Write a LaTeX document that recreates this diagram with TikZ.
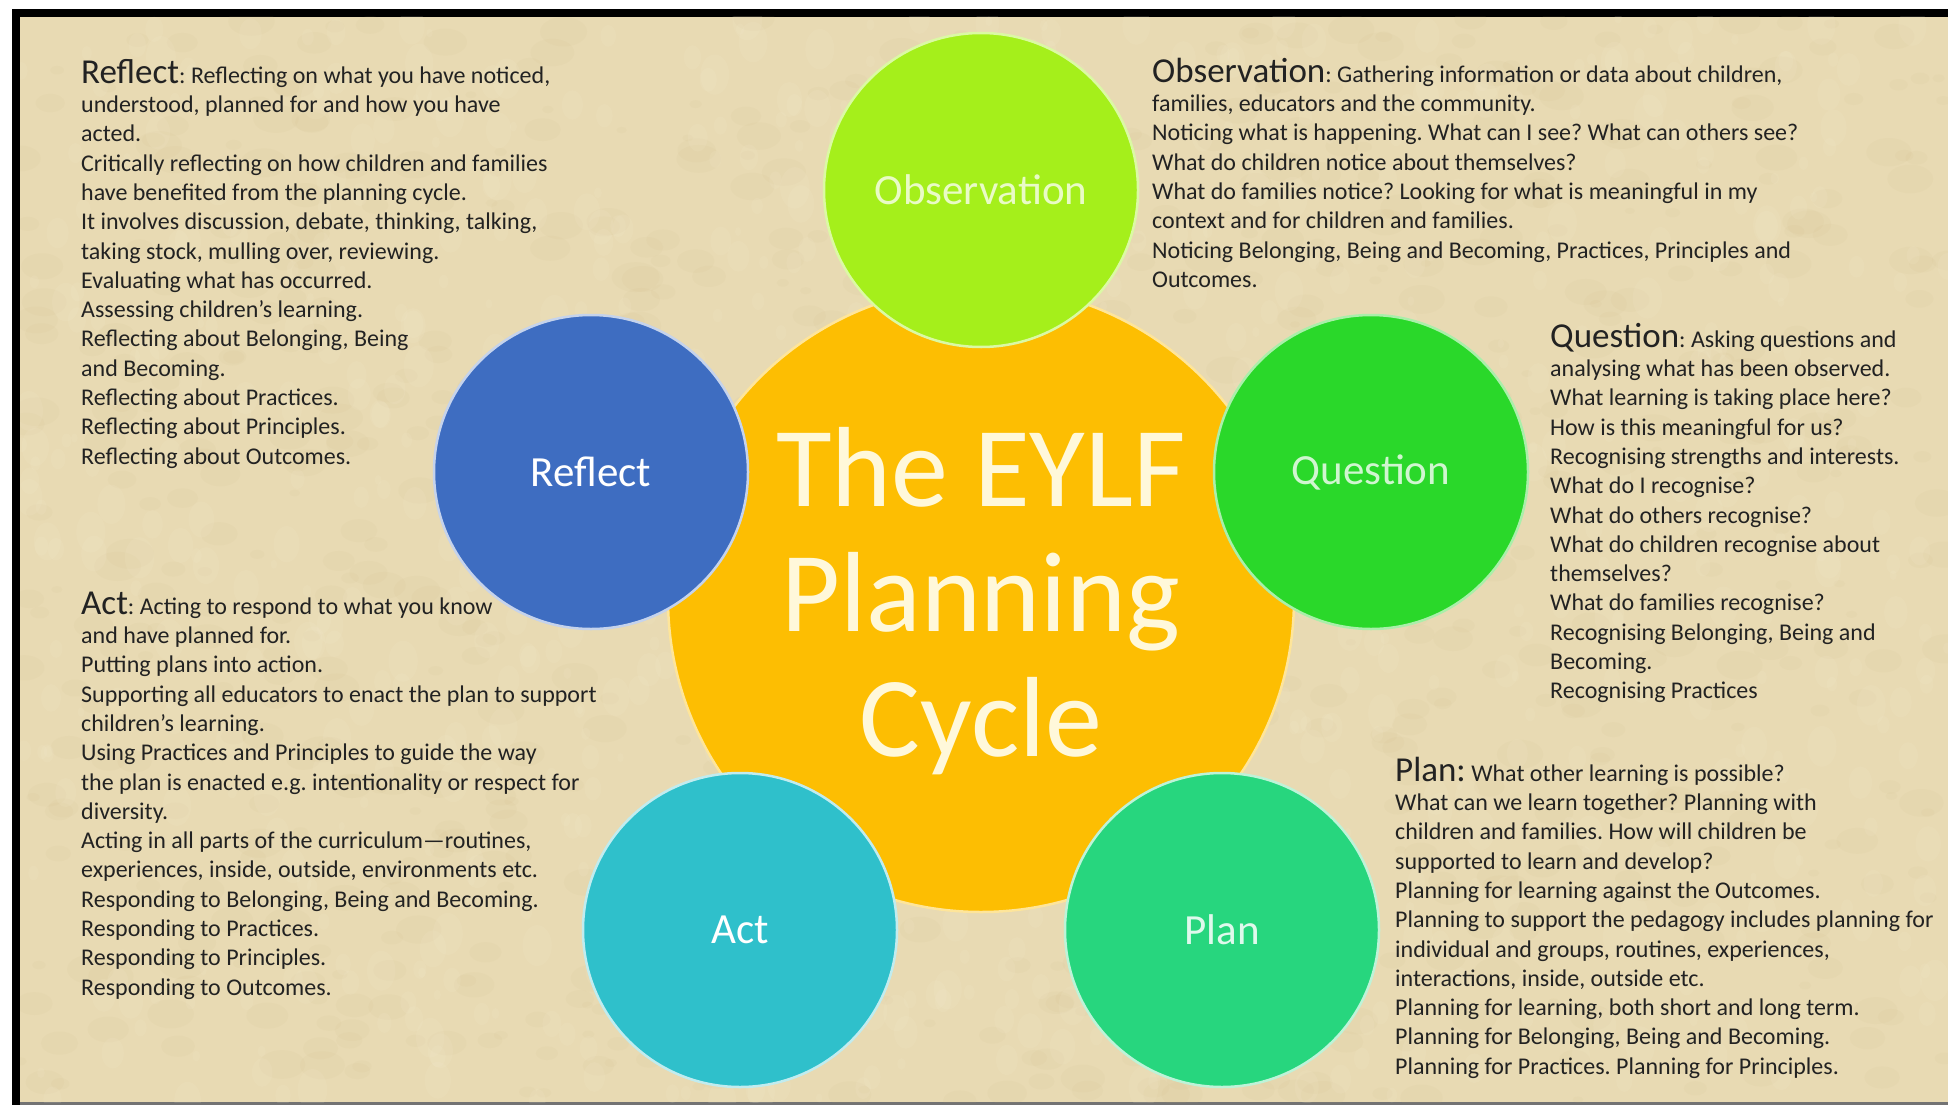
\documentclass[tikz,border=0pt]{standalone}
\usepackage{fontspec}
\setmainfont{Carlito}
\definecolor{bgc}{HTML}{E8DAB3}
\definecolor{bgdark}{HTML}{C9B27E}
\definecolor{bglight}{HTML}{F6EDD2}
\definecolor{orangec}{HTML}{FDBE02}
\definecolor{obsc}{HTML}{A5EF1B}
\definecolor{refc}{HTML}{3E6DC1}
\definecolor{quec}{HTML}{2AD82A}
\definecolor{actc}{HTML}{2FC0CB}
\definecolor{planc}{HTML}{27D67E}
\definecolor{textc}{HTML}{222222}
\definecolor{titlec}{HTML}{FFF8DA}
\newcommand\headw[1]{{\fontsize{35}{35}\selectfont #1}}
\begin{document}
\begin{tikzpicture}[x=1pt,y=-1pt,
  smallc/.style={circle, minimum size=314pt, inner sep=0pt, line width=2.5pt,
     font=\fontsize{43}{43}\selectfont},
  bigc/.style={circle, minimum size=626pt, inner sep=0pt, line width=2.5pt},
  blocktext/.style={anchor=north west, inner sep=0pt, align=left, text=textc,
     font=\fontsize{24}{29.3}\selectfont\frenchspacing},
  titletext/.style={anchor=north, inner sep=0pt, align=center, text=titlec,
     font=\fontsize{114}{125}\selectfont}]
\useasboundingbox (0,0) rectangle (1948,1105);
\fill[white] (0,0) rectangle (1948,1105);
\fill[black] (12,9) rectangle (1948,1105);
\fill[bgc] (20,17) rectangle (1948,1102);
\fill[black!55] (20,1102) rectangle (1948,1105);
% parchment texture
\begin{scope}
\clip (20,17) rectangle (1948,1102);
\pgfmathsetseed{7}
\foreach \i in {1,...,900}{
  \pgfmathsetmacro\xx{20+1928*rnd}
  \pgfmathsetmacro\yy{17+1085*rnd}
  \pgfmathsetmacro\rr{3+12*rnd}
  \fill[bgdark, opacity=0.07] (\xx,\yy) ellipse[x radius=\rr*1.6, y radius=\rr];
}
\foreach \i in {1,...,900}{
  \pgfmathsetmacro\xx{20+1928*rnd}
  \pgfmathsetmacro\yy{17+1085*rnd}
  \pgfmathsetmacro\rr{3+12*rnd}
  \fill[bglight, opacity=0.12] (\xx,\yy) ellipse[x radius=\rr, y radius=\rr*1.4];
}
\end{scope}
% central circle
\node[bigc, fill=orangec, draw=orangec!40!white] (core) at (981,599) {};
\node[titletext] (title) at (981,406) {\rule{0pt}{100pt}The EYLF\\Planning\\Cycle};
% cycle circles
\node[smallc, fill=obsc, draw=obsc!40!white, text=obsc!25!white] (obs) at (981,190) {Observation};
\node[smallc, fill=refc, draw=refc!30!white, text=white] (ref) at (591,472) {Reflect};
\node[smallc, fill=quec, draw=quec!40!white, text=quec!22!white] (que) at (1371,472) {Question};
\node[smallc, fill=actc, draw=actc!30!white, text=white] (act) at (740,930) {Act};
\node[smallc, fill=planc, draw=planc!30!white, text=planc!15!white] (plan) at (1222,930) {Plan};
% text blocks
\node[blocktext] (reftext) at (81,53) {\rule{0pt}{30pt}\headw{Reflect}: Reflecting on what you have noticed,\\
understood, planned for and how you have\\
acted.\\
Critically reflecting on how children and families\\
have benefited from the planning cycle.\\
It involves discussion, debate, thinking, talking,\\
taking stock, mulling over, reviewing.\\
Evaluating what has occurred.\\
Assessing children’s learning.\\
Reflecting about Belonging, Being\\
and Becoming.\\
Reflecting about Practices.\\
Reflecting about Principles.\\
Reflecting about Outcomes.};
\node[blocktext] (obstext) at (1152,52) {\rule{0pt}{30pt}\headw{Observation}: Gathering information or data about children,\\
families, educators and the community.\\
Noticing what is happening. What can I see? What can others see?\\
What do children notice about themselves?\\
What do families notice? Looking for what is meaningful in my\\
context and for children and families.\\
Noticing Belonging, Being and Becoming, Practices, Principles and\\
Outcomes.};
\node[blocktext] (quetext) at (1550,317) {\rule{0pt}{30pt}\headw{Question}: Asking questions and\\
analysing what has been observed.\\
What learning is taking place here?\\
How is this meaningful for us?\\
Recognising strengths and interests.\\
What do I recognise?\\
What do others recognise?\\
What do children recognise about\\
themselves?\\
What do families recognise?\\
Recognising Belonging, Being and\\
Becoming.\\
Recognising Practices};
\node[blocktext] (acttext) at (81,584) {\rule{0pt}{30pt}\headw{Act}: Acting to respond to what you know\\
and have planned for.\\
Putting plans into action.\\
Supporting all educators to enact the plan to support\\
children’s learning.\\
Using Practices and Principles to guide the way\\
the plan is enacted e.g. intentionality or respect for\\
diversity.\\
Acting in all parts of the curriculum—routines,\\
experiences, inside, outside, environments etc.\\
Responding to Belonging, Being and Becoming.\\
Responding to Practices.\\
Responding to Principles.\\
Responding to Outcomes.};
\node[blocktext] (plantext) at (1395,751) {\rule{0pt}{30pt}\headw{Plan:} What other learning is possible?\\
What can we learn together? Planning with\\
children and families. How will children be\\
supported to learn and develop?\\
Planning for learning against the Outcomes.\\
Planning to support the pedagogy includes planning for\\
individual and groups, routines, experiences,\\
interactions, inside, outside etc.\\
Planning for learning, both short and long term.\\
Planning for Belonging, Being and Becoming.\\
Planning for Practices. Planning for Principles.};
\end{tikzpicture}
\end{document}
